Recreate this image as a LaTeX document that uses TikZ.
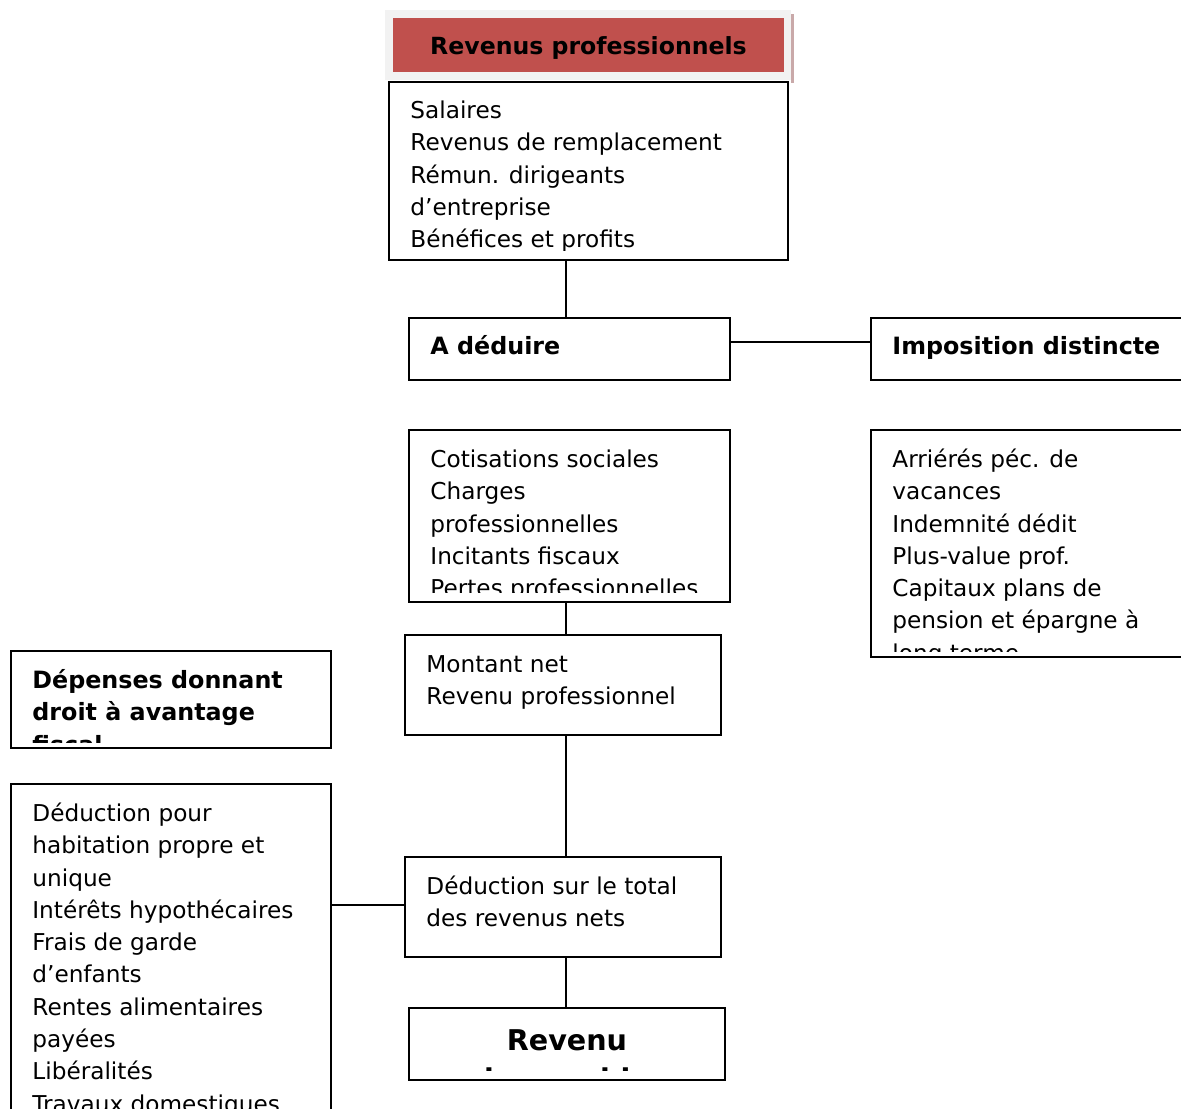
\documentclass[tikz,border=0pt]{standalone}
\usepackage{fontspec}
\setmainfont{DejaVu Sans}
\usetikzlibrary{fit}
\definecolor{hdrred}{HTML}{C0504D}
\definecolor{hdrgray}{HTML}{F2F2F2}
\definecolor{hdrshadow}{HTML}{C9A9A9}
\tikzset{
  boxframe/.style={draw, line width=1pt, inner sep=0pt, outer sep=0pt},
  txt/.style={anchor=north west, inner sep=0pt, align=left, font=\fontsize{11.6}{16.15}\selectfont},
  btxt/.style={txt, font=\fontsize{11.9}{16.15}\selectfont\bfseries},
  conn/.style={line width=0.9pt},
}
\begin{document}
\begin{tikzpicture}[x=0.5pt, y=-0.5pt]
\useasboundingbox (0,0) rectangle (1181,1108);
\clip (0,0) rectangle (1181,1108);
% header
\node[fill=hdrgray, inner sep=0pt, fit={(385,10) (791,80)}] (hdrbg) {};
\node[fill=hdrshadow, inner sep=0pt, fit={(791,14) (794,83)}] (hdrsh) {};
\node[fill=hdrred, inner sep=0pt, fit={(393,18) (784,72)}] (hdr) {};
\node[anchor=base, inner sep=0pt, font=\fontsize{11.8}{16.15}\selectfont\bfseries] (hdrt) at (588.5,54) {Revenus professionnels};
% boxes
\node[boxframe, fit={(389,82) (788,260)}] (box1) {};
\node[boxframe, fit={(409,318) (730,380)}] (deduire) {};
\node[boxframe, fit={(871,318) (1195,380)}] (impo) {};
\node[boxframe, fit={(409,430) (730,602)}] (cotis) {};
\node[boxframe, fit={(871,430) (1195,657)}] (arrie) {};
\node[boxframe, fit={(405,635) (721,735)}] (montant) {};
\node[boxframe, fit={(11,651) (331,748)}] (depenses) {};
\node[boxframe, fit={(11,784) (331,1125)}] (liste) {};
\node[boxframe, fit={(405,857) (721,957)}] (deduc) {};
\node[boxframe, fit={(409,1008) (725,1080)}] (revenu) {};
% texts
\begin{scope}
\clip (389,82) rectangle (788,250);
\node[txt] (box1t) at (410,95.4) {\strut Salaires\\Revenus de remplacement\\Rémun. dirigeants\\d’entreprise\\Bénéfices et profits};
\end{scope}
\node[btxt] (deduiret) at (430,331.4) {\strut A déduire};
\node[btxt] (impot) at (892,331.4) {\strut Imposition distincte};
\begin{scope}
\clip (409,430) rectangle (730,592);
\node[txt] (cotist) at (430,444.4) {\strut Cotisations sociales\\Charges\\professionnelles\\Incitants fiscaux\\Pertes professionnelles};
\end{scope}
\begin{scope}
\clip (871,430) rectangle (1181,651);
\node[txt] (arriet) at (892,444.4) {\strut Arriérés péc. de\\vacances\\Indemnité dédit\\Plus-value prof.\\Capitaux plans de\\pension et épargne à\\long terme};
\end{scope}
\node[txt] (montantt) at (426,649.4) {\strut Montant net\\Revenu professionnel};
\begin{scope}
\clip (11,651) rectangle (331,742);
\node[btxt] (depensest) at (32,665.4) {\strut Dépenses donnant\\droit à avantage\\fiscal};
\end{scope}
\begin{scope}
\clip (11,784) rectangle (331,1108);
\node[txt] (listet) at (32,798.4) {\strut Déduction pour\\habitation propre et\\unique\\Intérêts hypothécaires\\Frais de garde\\d’enfants\\Rentes alimentaires\\payées\\Libéralités\\Travaux domestiques};
\end{scope}
\node[txt] (deduct) at (426,871.4) {\strut Déduction sur le total\\des revenus nets};
\begin{scope}
\clip (409,1008) rectangle (725,1070);
\node[anchor=north, inner sep=0pt, align=center, font=\fontsize{14.3}{19.5}\selectfont\bfseries] (revenut) at (567,1023) {\strut Revenu\\imposable};
\end{scope}
% connectors
\coordinate (vx) at (566,0);
\coordinate (h1) at (0,342);
\coordinate (h2) at (0,905);
\draw[conn] (box1.south -| vx) -- (deduire.north -| vx);
\draw[conn] (deduire.east |- h1) -- (impo.west |- h1);
\draw[conn] (cotis.south -| vx) -- (montant.north -| vx);
\draw[conn] (montant.south -| vx) -- (deduc.north -| vx);
\draw[conn] (deduc.south -| vx) -- (revenu.north -| vx);
\draw[conn] (liste.east |- h2) -- (deduc.west |- h2);
\end{tikzpicture}
\end{document}
